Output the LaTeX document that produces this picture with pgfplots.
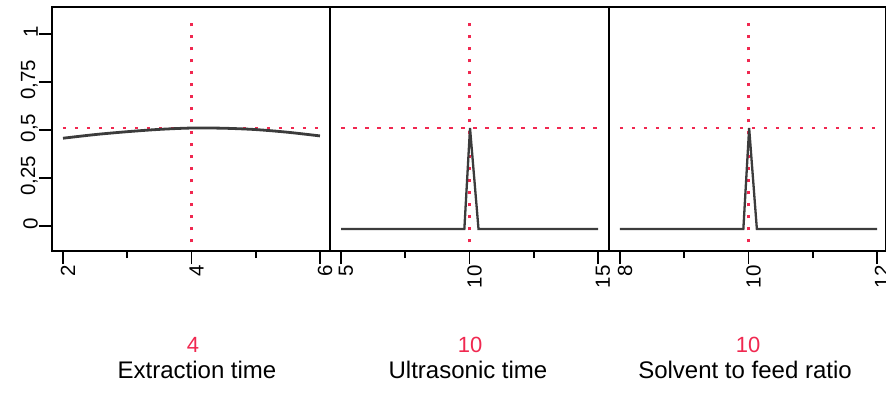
\documentclass[border=0pt]{standalone}
\usepackage{pgfplots}
\pgfplotsset{compat=1.18}
\usepackage{fontspec}
\setmainfont{Liberation Sans}
\definecolor{prred}{RGB}{240,40,80}
\definecolor{prgray}{RGB}{60,60,60}
\pgfplotsset{
  prof/.style={
    scale only axis, height=244pt,
    ymin=-0.13, ymax=1.14,
    axis line style={line width=1.8pt, black},
    every tick/.style={line width=1.8pt, black},
    tick align=outside,
    major tick length=13pt, minor tick length=7pt,
    xtick pos=bottom, ytick pos=left,
    /pgf/number format/assume math mode=true,
    xticklabel style={rotate=90, anchor=east, font=\fontsize{20.5}{20.5}\selectfont, inner sep=1pt, yshift=-5pt},
    yticklabel style={rotate=90, anchor=south, font=\fontsize{20.5}{20.5}\selectfont, inner sep=1pt, xshift=2pt},
    anchor=south west,
  },
  hline/.style={prred, line width=2.2pt, dash pattern=on 3.5pt off 8.5pt},
}
\begin{document}
\begin{tikzpicture}[x=1pt,y=1pt]
\useasboundingbox (0,0) rectangle (886,400);
% Panel 1
\begin{axis}[prof, at={(52pt,149pt)}, width=278pt,
  xmin=1.829, xmax=6.156,
  xtick={2,4,6}, xticklabels={2,4,6}, minor xtick={3,5},
  ytick={0,0.25,0.5,0.75,1}, yticklabels={0,{0,25},{0,5},{0,75},1}]
\addplot[hline] coordinates {(2,0.51) (6,0.51)};
\addplot[hline] coordinates {(4,-0.085) (4,1.06)};
\addplot[prgray, line width=2.8pt, smooth] coordinates {
(2,0.457) (2.5,0.476) (3,0.491) (3.5,0.503) (4,0.510) (4.5,0.509) (5,0.502) (5.5,0.488) (6,0.469)};
\end{axis}
% Panel 2
\begin{axis}[prof, at={(330pt,149pt)}, width=279pt,
  xmin=4.572, xmax=15.428,
  xtick={5,10,15}, xticklabels={5,10,15}, minor xtick={7.5,12.5},
  ytick=\empty]
\addplot[hline] coordinates {(5,0.51) (15,0.51)};
\addplot[hline] coordinates {(10,-0.085) (10,1.06)};
\addplot[prgray, line width=2.3pt] coordinates {
(5,-0.015) (9.8,-0.015) (10.02,0.51) (10.35,-0.015) (15,-0.015)};
\end{axis}
% Panel 3
\begin{axis}[prof, at={(609pt,149pt)}, width=277pt,
  xmin=7.829, xmax=12.14,
  xtick={8,10,12}, xticklabels={8,10,12}, minor xtick={9,11},
  ytick=\empty]
\addplot[hline] coordinates {(8,0.51) (12,0.51)};
\addplot[hline] coordinates {(10,-0.085) (10,1.06)};
\addplot[prgray, line width=2.3pt] coordinates {
(8,-0.015) (9.92,-0.015) (10.01,0.51) (10.13,-0.015) (12,-0.015)};
\end{axis}
% Bottom labels
\node[prred, font=\fontsize{22}{22}\selectfont] at (193,55) {4};
\node[prred, font=\fontsize{22}{22}\selectfont] at (470,55) {10};
\node[prred, font=\fontsize{22}{22}\selectfont] at (748,55) {10};
\node[font=\fontsize{24}{24}\selectfont] at (197,30) {Extraction time};
\node[font=\fontsize{24}{24}\selectfont] at (468,30) {Ultrasonic time};
\node[font=\fontsize{24}{24}\selectfont] at (745,30) {Solvent to feed ratio};
\end{tikzpicture}
\end{document}
